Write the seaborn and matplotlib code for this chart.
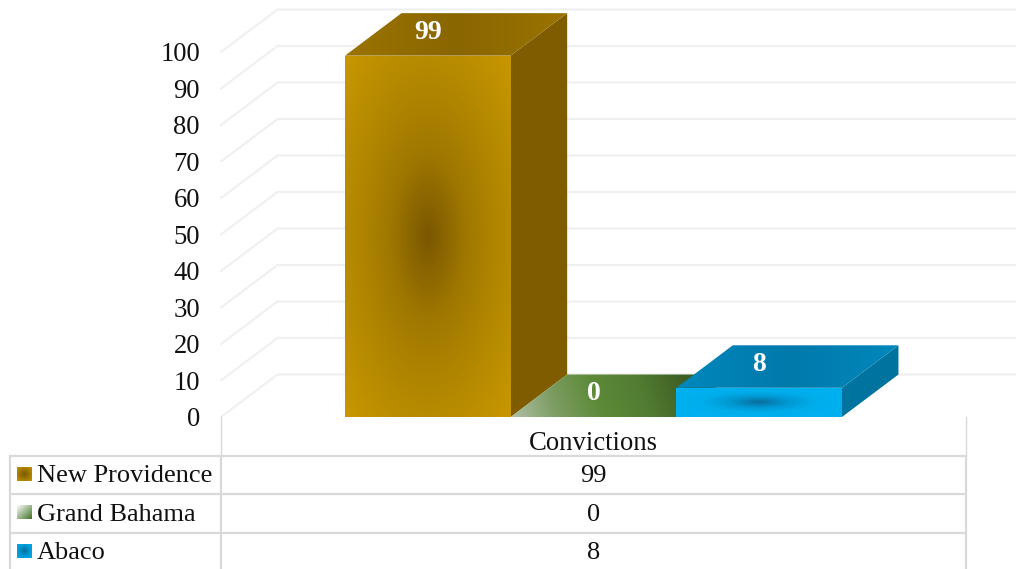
import numpy as np
import pandas as pd
import seaborn as sns
import matplotlib.pyplot as plt
from matplotlib.colors import to_rgb
from matplotlib.patches import Polygon
from matplotlib.lines import Line2D

# data
locations = ['New Providence', 'Grand Bahama', 'Abaco']
convictions = [99, 0, 8]
group = 'Convictions'
y_ticks = list(range(0, 101, 10))

W, H = 1016, 569
GRID = '#f0f0f0'
TABLE = '#d9d9d9'
INK = '#111111'

sns.set_theme(style='white')
plt.rcParams['font.family'] = ['Liberation Serif', 'DejaVu Serif']

fig = plt.figure(figsize=(W / 100, H / 100), dpi=100)
ax = fig.add_axes([221 / W, 1 - 417 / H, 745 / W, 365 / H])

df = pd.DataFrame({'group': group, 'location': locations, 'convictions': convictions})
sns.barplot(data=df, x='group', y='convictions', hue='location', hue_order=locations,
            width=0.667, gap=0, palette=['#c99700', '#5a8a35', '#00aeef'],
            legend=False, ax=ax, zorder=3)
ax.set_xlim(-0.5, 0.5)
ax.set_ylim(0, 100)
ax.axis('off')

# depth of the fake 3d box, in data units
dx = 56.5 / 745
dy = 42.5 / 3.65


def grad_poly(pts, stops, mode, zorder, spread=(0.71, 0.71), angle=(1, 0), on_ax=ax):
    # fill a polygon with a radial or linear gradient, clipped to its outline
    pts = np.array(pts)
    x0, x1 = pts[:, 0].min(), pts[:, 0].max()
    y0, y1 = pts[:, 1].min(), pts[:, 1].max()
    gx, gy = np.meshgrid(np.linspace(0, 1, 160), np.linspace(0, 1, 160))
    if mode == 'radial':
        t = np.hypot((gx - 0.5) / spread[0], (gy - 0.5) / spread[1])
    else:
        t = gx * angle[0] + gy * angle[1] - min(angle[1], 0)
    t = np.clip(t, 0, 1)
    pos = np.linspace(0, 1, len(stops))
    rgb = np.array([to_rgb(c) for c in stops])
    img = np.dstack([np.interp(t, pos, rgb[:, i]) for i in range(3)])
    im = on_ax.imshow(img, extent=(x0, x1, y0, y1), origin='lower', aspect='auto',
                      zorder=zorder, interpolation='bilinear')
    clip = Polygon(pts, closed=True, transform=on_ax.transData, fc='none', ec='none', clip_on=False)
    on_ax.add_patch(clip)
    im.set_clip_path(clip)
    im.set_clip_box(fig.bbox)
    return im


# back wall and side wall grid
for v in y_ticks:
    ax.plot([-0.5, -0.5 + dx, 0.55 + dx], [v, v + dy, v + dy], color=GRID, lw=1.6,
            zorder=1, clip_on=False, solid_joinstyle='miter')
    ax.text(-0.5 - 21 / 745, v - 0.8, str(v), ha='right', va='center', fontsize=19.2,
            color=INK, clip_on=False)

patches = [c[0] for c in ax.containers]

front = [['#7a5700', '#a07800', '#b58a00', '#c99700'], None,
         ['#0a6d9c', '#0098d2', '#00aeec', '#00b0f0', '#00b0f0']]
top = [['#9a7300', '#8a6600', '#9a7300'],
       ['#b0bfa6', '#7d9d63', '#5c8a38', '#527c32', '#3f5f24'],
       ['#0088bd', '#0079ab', '#0088bd']]
top_angle = [(1, 0), (1.2, 0.08), (1, 0)]
side = ['#7f5c00', '#3a5a20', '#00749f']

for i, (p, val) in enumerate(zip(patches, convictions)):
    x, w = p.get_x(), p.get_width()
    z = 4 + i
    p.set_visible(False)
    if val > 0:
        grad_poly([(x, 0), (x + w, 0), (x + w, val), (x, val)], front[i], 'radial', z + 0.2)
        ax.add_patch(Polygon([(x + w, 0), (x + w + dx, dy), (x + w + dx, val + dy), (x + w, val)],
                             fc=side[i], ec='none', zorder=z, clip_on=False))
    grad_poly([(x, val), (x + w, val), (x + w + dx, val + dy), (x + dx, val + dy)], top[i], 'linear', z + 0.1,
              angle=top_angle[i])
    ax.text(x + w / 2, val + dy / 2 + 0.6, str(val), ha='center', va='center', color='white',
            fontsize=20, fontweight='bold', zorder=9, clip_on=False)

ax.set_xlim(-0.5, 0.5)
ax.set_ylim(0, 100)


# data table below, positioned in pixels of the figure
def px(x, y):
    return x / W, 1 - y / H


def line(x0, y0, x1, y1, lw=1.6):
    fig.add_artist(Line2D(*zip(px(x0, y0), px(x1, y1)), color=TABLE, lw=lw))


line(220.5, 417, 220.5, 456, lw=1)
line(966, 417, 966, 456, lw=1)
line(220.5, 456, 220.5, 569)
line(966, 456, 966, 569)
line(10, 456, 10, 569)
row_tops = [456, 494, 533]
for y in row_tops:
    line(10, y, 966, y)

fig.text(*px(593, 444), group, ha='center', va='center', fontsize=19.2, color=INK)

key_stops = [['#7a5700', '#a07800', '#c99700'], ['#ffffff', '#9fb98f', '#3f6f24'], ['#0a6d9c', '#0098d2', '#00aeef']]
text_rows = [476, 515, 553]
for y, ty, name, val, stops in zip(row_tops, text_rows, locations, convictions, key_stops):
    cy = y + 18
    fig.text(*px(37, ty), name, ha='left', va='center', fontsize=19, color=INK)
    fig.text(*px(593.5, ty), str(val), ha='center', va='center', fontsize=19, color=INK)
    key = fig.add_axes([17 / W, 1 - (cy + 7) / H, 15 / W, 14 / H])
    key.axis('off')
    square = [(0, 0), (1, 0), (1, 1), (0, 1)]
    if name == 'Grand Bahama':
        grad_poly(square, stops, 'linear', 1, angle=(0.5, -0.5), on_ax=key)
    else:
        grad_poly(square, stops, 'radial', 1, on_ax=key)
    key.set_xlim(0, 1)
    key.set_ylim(0, 1)

fig.savefig('out.png', dpi=100, facecolor='white')
